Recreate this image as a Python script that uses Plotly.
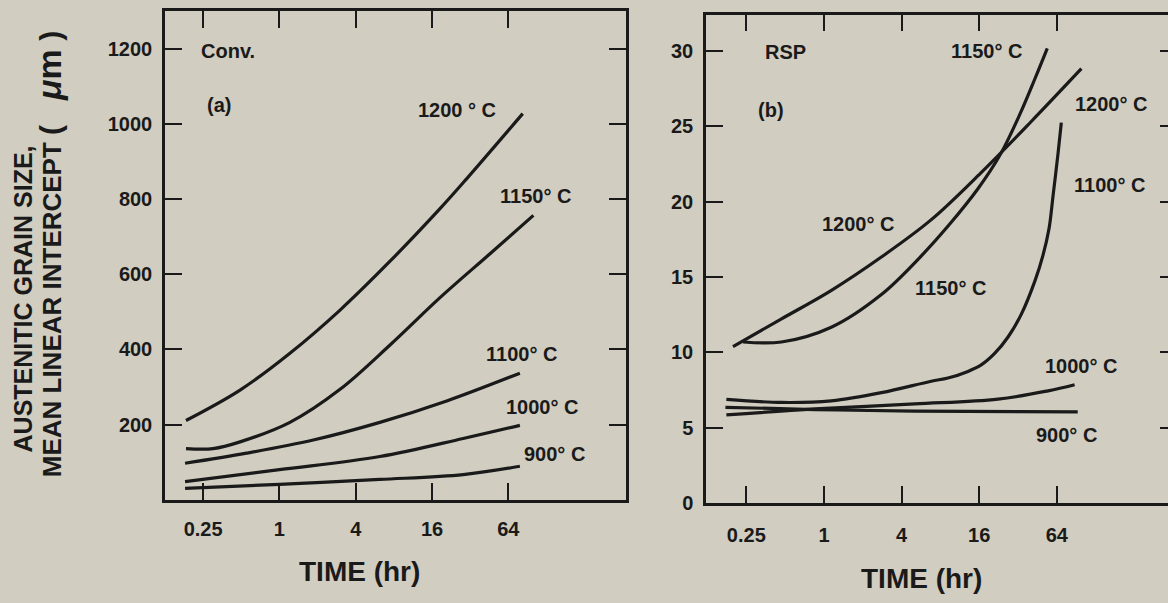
import numpy as np
import plotly.graph_objects as go

# ---------------- data ----------------
# Panel (a): Conventional
a_t_1200 = [0.183, 0.489, 1.21, 3.01, 7.46, 18.5, 30.1, 83.2]
a_y_1200 = [211, 292, 390, 505, 635, 775, 855, 1028]
a_t_1150 = [0.183, 0.30, 0.489, 1.21, 3.01, 7.46, 18.5, 45.9, 101]
a_y_1150 = [136, 136, 154, 206, 294, 412, 538, 655, 757]
a_t_1100 = [0.18, 0.55, 1.85, 6.2, 20.9, 79]
a_y_1100 = [97, 124, 159, 206, 263, 337]
a_t_1000 = [0.18, 1.0, 6.2, 28.2, 79]
a_y_1000 = [48, 80, 115, 163, 198]
a_t_900 = [0.18, 1.0, 6.2, 28.2, 79]
a_y_900 = [30, 41, 54, 67, 89]

# Panel (b): RSP
b_t_1150 = [0.236, 0.468, 1.14, 2.79, 5.56, 9.5, 15.7, 23.2, 33.2, 43.4, 54.0]
b_y_1150 = [10.69, 10.69, 11.67, 13.84, 16.31, 18.53, 20.87, 23.09, 25.82, 28.17, 30.17]
b_t_1200 = [0.197, 0.465, 1.135, 2.77, 6.77, 16.5, 40.4, 99.3]
b_y_1200 = [10.39, 12.21, 14.10, 16.31, 18.79, 21.91, 25.30, 28.82]
b_t_1100 = [0.175, 0.468, 1.14, 2.79, 6.8, 9.16, 13.1, 16.6, 21.1, 26.8, 34.0, 43.2,
            50.0, 55.7, 59.8, 65.4, 69.4]
b_y_1100 = [6.89, 6.68, 6.79, 7.33, 8.09, 8.30, 8.74, 9.17, 9.93, 11.02, 12.54, 14.71,
            16.44, 18.20, 20.35, 23.17, 25.24]
b_t_1000 = [0.175, 0.85, 5.07, 22.4, 54.8, 88]
b_y_1000 = [5.85, 6.25, 6.58, 6.9, 7.45, 7.85]
b_t_900 = [0.172, 0.85, 5.07, 93]
b_y_900 = [6.36, 6.21, 6.1, 6.05]

x_tick_vals = [0.25, 1, 4, 16, 64]
x_tick_text = ["0.25", "1", "4", "16", "64"]
a_y_ticks = [200, 400, 600, 800, 1000, 1200]
b_y_ticks = [0, 5, 10, 15, 20, 25, 30]

# ---------------- styling ----------------
BG = "#d1cdc1"
INK = "#1a1a1a"
FONT = "Liberation Sans, Arial, sans-serif"
W, H = 1168, 603

fig = go.Figure()

def add_curve(t, y, xa, ya):
    fig.add_trace(go.Scatter(x=t, y=y, mode="lines", xaxis=xa, yaxis=ya,
                             line=dict(color=INK, width=3.2, shape="spline", smoothing=1.0),
                             showlegend=False, hoverinfo="skip"))

for t, y in [(a_t_1200, a_y_1200), (a_t_1150, a_y_1150), (a_t_1100, a_y_1100),
             (a_t_1000, a_y_1000), (a_t_900, a_y_900)]:
    add_curve(t, y, "x", "y")
for t, y in [(b_t_1150, b_y_1150), (b_t_1200, b_y_1200), (b_t_1100, b_y_1100),
             (b_t_1000, b_y_1000), (b_t_900, b_y_900)]:
    add_curve(t, y, "x2", "y2")
# invisible trace to carry the right-hand tick axis of panel (b)
fig.add_trace(go.Scatter(x=[1], y=[0], xaxis="x2", yaxis="y3", mode="markers",
                         marker=dict(opacity=0), showlegend=False, hoverinfo="skip"))

tickfont = dict(family=FONT, size=20, color=INK, weight="bold")
common = dict(showgrid=False, zeroline=False, showline=True, linecolor=INK, linewidth=2.5,
              ticks="inside", ticklen=17, tickwidth=2, tickcolor=INK, tickfont=tickfont)

def px2paper_x(px):
    return px / W

def px2paper_y(py):
    return 1 - py / H

fig.update_layout(
    width=W, height=H, margin=dict(l=0, r=0, t=0, b=0),
    paper_bgcolor=BG, plot_bgcolor=BG, showlegend=False,
    xaxis=dict(type="log", range=[-0.903, 2.735], domain=[px2paper_x(165), px2paper_x(626)],
               anchor="y", tickvals=x_tick_vals, ticktext=x_tick_text, mirror="ticks",
               ticklabelstandoff=10, **common),
    yaxis=dict(range=[0, 1300], domain=[px2paper_y(509), px2paper_y(11.7)], anchor="x",
               tickvals=a_y_ticks, mirror="ticks", ticklabelstandoff=6, **common),
    xaxis2=dict(type="log", range=[-0.915, 2.669], domain=[px2paper_x(706), 1.0],
                anchor="y2", tickvals=x_tick_vals, ticktext=x_tick_text, mirror="ticks",
                ticklabelstandoff=12, **common),
    yaxis2=dict(range=[0, 32.4], domain=[px2paper_y(512.5), px2paper_y(15)], anchor="x2",
                tickvals=b_y_ticks, mirror=False, ticklabelstandoff=6, **common),
    yaxis3=dict(range=[0, 32.4], overlaying="y2", anchor="free", position=1.0, side="right",
                showline=False, showgrid=False, zeroline=False, ticks="inside", ticklen=8,
                tickwidth=2, tickcolor=INK, tickvals=b_y_ticks[1:], showticklabels=False),
)

def note(text, t, y, xref, yref, size=20):
    fig.add_annotation(text=text, x=np.log10(t), y=y, xref=xref, yref=yref, showarrow=False,
                       xanchor="center", yanchor="middle",
                       font=dict(family=FONT, size=size, color=INK, weight="bold"))

# panel (a) labels
note("Conv.", 0.396, 1195, "x", "y")
note("(a)", 0.336, 1051, "x", "y")
note("1200 ° C", 25, 1038, "x", "y")
note("1150° C", 104, 810, "x", "y")
note("1100° C", 81.5, 389, "x", "y")
note("1000° C", 119, 246, "x", "y")
note("900° C", 148, 123, "x", "y")
# panel (b) labels
note("RSP", 0.499, 29.9, "x2", "y2")
note("(b)", 0.385, 26.1, "x2", "y2")
note("1150° C", 18.1, 30.0, "x2", "y2")
note("1200° C", 169, 26.5, "x2", "y2")
note("1100° C", 163, 21.1, "x2", "y2")
note("1200° C", 1.84, 18.5, "x2", "y2")
note("1150° C", 9.6, 14.3, "x2", "y2")
note("1000° C", 99.5, 9.08, "x2", "y2")
note("900° C", 76.3, 4.53, "x2", "y2")

# axis titles
for xp, yp in [(359, 582), (921, 589)]:
    fig.add_annotation(text="TIME (hr)", x=px2paper_x(xp), y=px2paper_y(yp), xref="paper",
                       yref="paper", showarrow=False, xanchor="center", yanchor="middle",
                       font=dict(family=FONT, size=28, color=INK, weight="bold"))

fig.add_annotation(text="AUSTENITIC GRAIN SIZE,", x=px2paper_x(23), y=px2paper_y(305),
                   xref="paper", yref="paper", showarrow=False, textangle=-90,
                   xanchor="center", yanchor="middle",
                   font=dict(family=FONT, size=25, color=INK, weight="bold"))
fig.add_annotation(
    text=("MEAN LINEAR INTERCEPT <span style='font-size:30px'>(&nbsp;&nbsp;&nbsp;"
          "<span style='font-size:34px'><i>μ</i>m</span>&nbsp;)</span>"),
    x=px2paper_x(49), y=px2paper_y(259),
    xref="paper", yref="paper", showarrow=False, textangle=-90,
    xanchor="center", yanchor="middle",
    font=dict(family=FONT, size=26, color=INK, weight="bold"))

fig.write_html(
    "out.html",
    config={"displayModeBar": False},
    post_script=("document.body.style.margin='0px';"
                 "document.body.style.overflow='hidden';"
                 "document.documentElement.style.overflow='hidden';"),
)
